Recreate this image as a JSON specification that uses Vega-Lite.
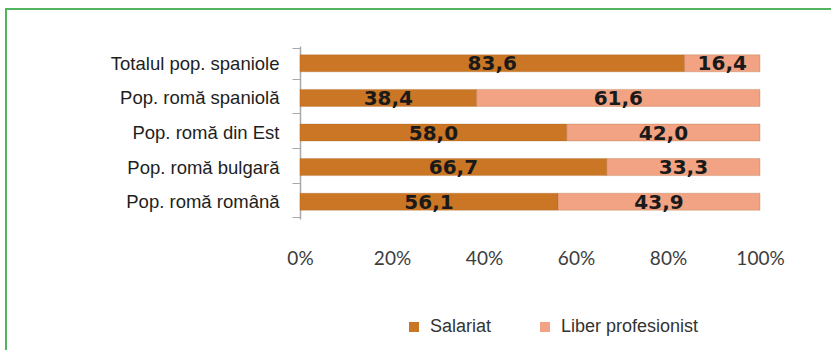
{
  "$schema": "https://vega.github.io/schema/vega-lite/v6.json",
  "width": 830,
  "height": 345,
  "autosize": {"type": "none"},
  "padding": {"left": 6, "top": 9, "right": 0, "bottom": 0},
  "background": "white",
  "config": {
    "view": {"stroke": "#52B45E", "strokeWidth": 2},
    "locale": {"number": {"decimal": ",", "thousands": ".", "grouping": [3], "currency": ["", " €"]}}
  },
  "data": {
    "values": [
      {"cat": "Totalul pop. spaniole", "type": "Salariat", "v": 83.6},
      {"cat": "Totalul pop. spaniole", "type": "Liber profesionist", "v": 16.4},
      {"cat": "Pop. romă spaniolă", "type": "Salariat", "v": 38.4},
      {"cat": "Pop. romă spaniolă", "type": "Liber profesionist", "v": 61.6},
      {"cat": "Pop. romă din Est", "type": "Salariat", "v": 58.0},
      {"cat": "Pop. romă din Est", "type": "Liber profesionist", "v": 42.0},
      {"cat": "Pop. romă bulgară", "type": "Salariat", "v": 66.7},
      {"cat": "Pop. romă bulgară", "type": "Liber profesionist", "v": 33.3},
      {"cat": "Pop. romă română", "type": "Salariat", "v": 56.1},
      {"cat": "Pop. romă română", "type": "Liber profesionist", "v": 43.9}
    ]
  },
  "transform": [
    {"stack": "v", "groupby": ["cat"], "sort": [{"field": "type", "order": "descending"}], "as": ["x0", "x1"]}
  ],
  "encoding": {
    "y": {
      "field": "cat",
      "type": "nominal",
      "sort": ["Totalul pop. spaniole", "Pop. romă spaniolă", "Pop. romă din Est", "Pop. romă bulgară", "Pop. romă română"],
      "scale": {"range": [37, 210]},
      "axis": {
        "title": null,
        "offset": -294,
        "domain": true,
        "domainColor": "#A8A8A8",
        "domainWidth": 1.5,
        "ticks": true,
        "tickBand": "extent",
        "tickSize": 8,
        "tickColor": "#A8A8A8",
        "labelPadding": 13,
        "labelFont": "Liberation Sans",
        "labelFontSize": 18.5,
        "labelColor": "#1e1e1e",
        "labelLimit": 300
      }
    }
  },
  "layer": [
    {
      "mark": {"type": "bar", "size": 17, "stroke": "#9a5a1a", "strokeOpacity": 0.25, "strokeWidth": 1},
      "encoding": {
        "x": {
          "field": "x0",
          "type": "quantitative",
          "scale": {"domain": [-63.91, 116.52], "nice": false, "zero": false},
          "axis": {
            "title": null,
            "values": [0, 20, 40, 60, 80, 100],
            "labelExpr": "datum.value + '%'",
            "domain": false,
            "ticks": false,
            "grid": false,
            "offset": -114,
            "labelPadding": 9,
            "labelFont": "Lato",
            "labelFontSize": 19,
            "labelColor": "#3c3c3c",
            "labelFlush": false
          }
        },
        "x2": {"field": "x1"},
        "color": {
          "field": "type",
          "type": "nominal",
          "scale": {"domain": ["Salariat", "Liber profesionist"], "range": ["#CB7624", "#F2A383"]},
          "legend": {
            "title": null,
            "orient": "none",
            "direction": "horizontal",
            "legendX": 399,
            "legendY": 309,
            "symbolType": "square",
            "symbolSize": 100,
            "symbolStrokeWidth": 0,
            "labelFont": "Liberation Sans",
            "labelFontSize": 18,
            "labelColor": "#333333",
            "columnPadding": 44,
            "labelOffset": 7
          }
        }
      }
    },
    {
      "transform": [
        {"fold": ["x0", "x1"], "as": ["k", "p"]},
        {"aggregate": [{"op": "mean", "field": "p", "as": "mid"}], "groupby": ["cat", "type", "v"]}
      ],
      "mark": {"type": "text", "font": "DejaVu Sans", "fontWeight": "bold", "fontSize": 20, "color": "#1a1a1a", "baseline": "middle", "dy": 1},
      "encoding": {
        "x": {"field": "mid", "type": "quantitative", "scale": {"domain": [-63.91, 116.52], "nice": false, "zero": false}},
        "text": {"field": "v", "type": "quantitative", "format": ".1f"}
      }
    }
  ]
}
